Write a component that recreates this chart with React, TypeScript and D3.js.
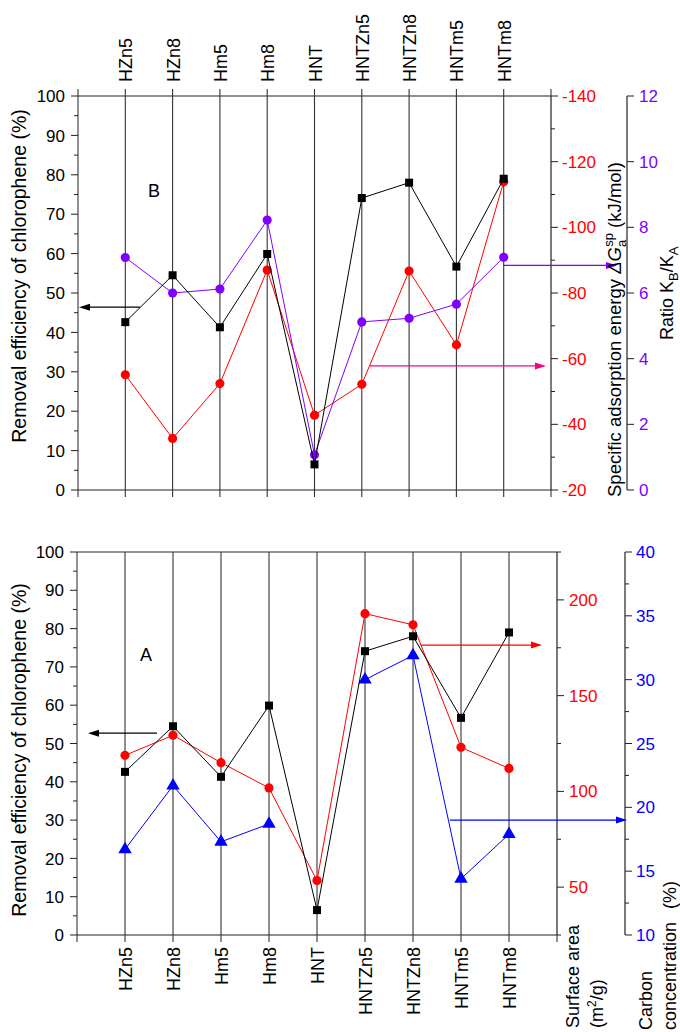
import React from 'react';
import * as d3 from 'd3';

// samples (same order on both panels)
const categories = ['HZn5', 'HZn8', 'Hm5', 'Hm8', 'HNT', 'HNTZn5', 'HNTZn8', 'HNTm5', 'HNTm8'];
// removal efficiency of chlorophene (%)
const removal = [42.6, 54.5, 41.3, 59.9, 6.5, 74.1, 78.0, 56.7, 79.0];
// specific adsorption energy (kJ/mol)
const adsorptionEnergy = [-55.1, -35.7, -52.4, -87.0, -42.8, -52.2, -86.7, -64.2, -113.9];
// ratio KB/KA
const ratioKBKA = [7.08, 6.0, 6.12, 8.22, 1.07, 5.12, 5.23, 5.66, 7.09];
// surface area (m2/g)
const surfaceArea = [118.8, 129.3, 115.0, 101.8, 53.4, 192.8, 187.0, 123.0, 112.0];
// carbon concentration (%), no value for HNT
const carbon: (number | null)[] = [16.7, 21.7, 17.3, 18.7, null, 30.0, 31.9, 14.4, 17.9];

const leftTicks = d3.range(0, 101, 10);
const energyTicks = d3.range(-140, -19, 20);
const ratioTicks = d3.range(0, 13, 2);
const areaTicks = [50, 100, 150, 200];
const carbonTicks = d3.range(10, 41, 5);

const FONT = '"Liberation Sans", Arial, Helvetica, sans-serif';
const RED = '#ff0000';
const PURPLE = '#8000ff';
const BLUE = '#0000ff';
const PINK = '#ff0080';
const AX = '#222';

function Arrow({ x1, x2, y, color }: { x1: number; x2: number; y: number; color: string }) {
  const dir = x2 > x1 ? 1 : -1;
  const hl = 11, hw = 3.5;
  return (
    <g>
      <line x1={x1} x2={x2 - dir * hl} y1={y} y2={y} stroke={color} strokeWidth={1.2} />
      <path d={`M${x2},${y}L${x2 - dir * hl},${y - hw}L${x2 - dir * hl},${y + hw}Z`} fill={color} />
    </g>
  );
}

function VText({ x, y, anchor, size = 18, fill = '#000', children }: any) {
  return (
    <text transform={`translate(${x},${y}) rotate(-90)`} textAnchor={anchor} fontSize={size} fill={fill}>
      {children}
    </text>
  );
}

function LineSeries({ x, y, values, color, shape }: any) {
  const pts = values.map((v: number | null, i: number) => ({ v, c: categories[i] }));
  const line = d3
    .line<any>()
    .defined((d) => d.v != null)
    .x((d) => x(d.c))
    .y((d) => y(d.v));
  const sym = d3.symbol().type(shape === 'triangle' ? d3.symbolTriangle : d3.symbolCircle).size(shape === 'triangle' ? 78 : 66);
  return (
    <g>
      <path d={line(pts) || ''} fill="none" stroke={color} strokeWidth={1} />
      {pts
        .filter((d: any) => d.v != null)
        .map((d: any) =>
          shape === 'square' ? (
            <rect key={d.c} x={x(d.c) - 4} y={y(d.v) - 4} width={8} height={8} fill={color} />
          ) : (
            <path key={d.c} transform={`translate(${x(d.c)},${y(d.v)})`} d={sym() || ''} fill={color} />
          )
        )}
    </g>
  );
}

function LeftAxis({ x0, y }: any) {
  const minors = d3.range(5, 100, 10);
  return (
    <g>
      <line x1={x0} x2={x0} y1={y(0)} y2={y(100)} stroke={AX} />
      {leftTicks.map((t) => (
        <g key={t}>
          <line x1={x0 - 7} x2={x0} y1={y(t)} y2={y(t)} stroke={AX} />
          <text x={x0 - 13} y={y(t)} dy="0.36em" textAnchor="end" fontSize={17}>{t}</text>
        </g>
      ))}
      {minors.map((t) => (
        <line key={t} x1={x0 - 4} x2={x0} y1={y(t)} y2={y(t)} stroke={AX} />
      ))}
    </g>
  );
}

function RightAxis({ ax, y, ticks, minors, color, y0, y1, labelDx = 11, fmt = (t: number) => String(t) }: any) {
  return (
    <g>
      <line x1={ax} x2={ax} y1={y0} y2={y1} stroke={AX} strokeWidth={1.2} />
      {ticks.map((t: number) => (
        <g key={t}>
          <line x1={ax} x2={ax + 7} y1={y(t)} y2={y(t)} stroke={AX} />
          <text x={ax + labelDx} y={y(t)} dy="0.36em" fontSize={17} fill={color}>{fmt(t)}</text>
        </g>
      ))}
      {minors.map((t: number) => (
        <line key={t} x1={ax} x2={ax + 4} y1={y(t)} y2={y(t)} stroke={AX} />
      ))}
    </g>
  );
}

function TopPanel() {
  const x0 = 78, x1 = 551, y0 = 96, y1 = 490;
  const x = d3.scalePoint<string>().domain(categories).range([x0, x1]).padding(1);
  const yL = d3.scaleLinear().domain([0, 100]).range([y1, y0]);
  const yE = d3.scaleLinear().domain([-20, -140]).range([y1, y0]);
  const yR = d3.scaleLinear().domain([0, 12]).range([y1, y0]);
  const ax2 = 627;
  return (
    <g>
      <line x1={x0} x2={x1} y1={y0} y2={y0} stroke={AX} strokeWidth={1.2} />
      <line x1={x0} x2={x1} y1={y1} y2={y1} stroke={AX} strokeWidth={1.2} />
      {[x0, x1].map((v) => (
        <g key={v}>
          <line x1={v} x2={v} y1={y0 - 7} y2={y0} stroke={AX} />
          <line x1={v} x2={v} y1={y1} y2={y1 + 7} stroke={AX} />
        </g>
      ))}
      {categories.map((c) => (
        <g key={c}>
          <line x1={x(c)} x2={x(c)} y1={y0 - 7} y2={y1 + 7} stroke="#333" strokeWidth={1.1} />
          <VText x={x(c)! + 7} y={82} anchor="start">{c}</VText>
        </g>
      ))}
      <LeftAxis x0={x0} y={yL} />
      <RightAxis ax={x1} y={yE} ticks={energyTicks} minors={d3.range(-130, -20, 20)} color={RED} y0={y0} y1={y1} />
      <RightAxis ax={ax2} y={yR} ticks={ratioTicks} minors={[]} color={PURPLE} y0={y0} y1={y1} labelDx={12} />

      <LineSeries x={x} y={yE} values={adsorptionEnergy} color={RED} shape="circle" />
      <LineSeries x={x} y={yR} values={ratioKBKA} color={PURPLE} shape="circle" />
      <LineSeries x={x} y={yL} values={removal} color="#000" shape="square" />

      <Arrow x1={140} x2={79} y={yL(46.4)} color="#000" />
      <Arrow x1={x('HNTm8')!} x2={617} y={yR(6.84)} color={PURPLE} />
      <Arrow x1={370} x2={546} y={yE(-57.8)} color={PINK} />

      <text x={154} y={191} dy="0.36em" textAnchor="middle" fontSize={18}>B</text>

      <VText x={26} y={276} anchor="middle" size={19.5}>Removal efficiency of chlorophene (%)</VText>
      <VText x={621} y={497} anchor="start" size={18.5}>
        Specific adsorption energy <tspan fontStyle="italic">ΔG</tspan>
        <tspan fontSize={13} dy={5}>a</tspan>
        <tspan fontSize={13} dx={-7} dy={-13}>sp</tspan>
        <tspan dy={8}> (kJ/mol)</tspan>
      </VText>
      <VText x={673} y={340} anchor="start">
        Ratio K<tspan fontSize={13} dy={5}>B</tspan>
        <tspan dy={-5}>/K</tspan>
        <tspan fontSize={13} dy={5}>A</tspan>
      </VText>
    </g>
  );
}

function BottomPanel() {
  const x0 = 77, x1 = 557, y0 = 552, y1 = 935;
  const x = d3.scalePoint<string>().domain(categories).range([x0, x1]).padding(1);
  const yL = d3.scaleLinear().domain([0, 100]).range([y1, y0]);
  const yS = d3.scaleLinear().domain([25, 225]).range([y1, y0]);
  const yC = d3.scaleLinear().domain([10, 40]).range([y1, y0]);
  const ax2 = 625;
  return (
    <g>
      <line x1={x0} x2={x1} y1={y0} y2={y0} stroke={AX} strokeWidth={1.2} />
      <line x1={x0} x2={x1} y1={y1} y2={y1} stroke={AX} strokeWidth={1.2} />
      {[x0, x1].map((v) => (
        <line key={v} x1={v} x2={v} y1={y1} y2={y1 + 7} stroke={AX} />
      ))}
      {categories.map((c) => (
        <g key={c}>
          <line x1={x(c)} x2={x(c)} y1={y0} y2={y1 + 7} stroke="#333" strokeWidth={1.1} />
          <VText x={x(c)! + 7} y={947} anchor="end">{c}</VText>
        </g>
      ))}
      <LeftAxis x0={x0} y={yL} />
      <RightAxis ax={x1} y={yS} ticks={areaTicks} minors={[25, 75, 125, 175, 225]} color={RED} y0={y0} y1={y1} labelDx={12} />
      <RightAxis ax={ax2} y={yC} ticks={carbonTicks} minors={d3.range(12.5, 40, 5)} color={BLUE} y0={y0} y1={y1} labelDx={11} />

      <LineSeries x={x} y={yS} values={surfaceArea} color={RED} shape="circle" />
      <LineSeries x={x} y={yC} values={carbon} color={BLUE} shape="triangle" />
      <LineSeries x={x} y={yL} values={removal} color="#000" shape="square" />

      <Arrow x1={157} x2={88} y={yL(52.7)} color="#000" />
      <Arrow x1={421} x2={542} y={yS(176.4)} color={RED} />
      <Arrow x1={450} x2={627} y={yC(19.0)} color={BLUE} />

      <text x={146} y={655} dy="0.36em" textAnchor="middle" fontSize={18}>A</text>

      <VText x={26} y={750} anchor="middle" size={19.5}>Removal efficiency of chlorophene (%)</VText>
      <VText x={579} y={1028} anchor="start">Surface area</VText>
      <VText x={603} y={1028} anchor="start">
        (m<tspan fontSize={12} dy={-7}>2</tspan>
        <tspan dy={7}>/g)</tspan>
      </VText>
      <VText x={652} y={1030} anchor="start">Carbon</VText>
      <VText x={676} y={1030} anchor="start">concentration</VText>
      <VText x={676} y={909} anchor="start">(%)</VText>
    </g>
  );
}

export default function App() {
  return (
    <div style={{ position: 'absolute', left: 0, top: 0 }}>
      <svg width={680} height={1032} style={{ display: 'block', fontFamily: FONT }}>
        <rect width={680} height={1032} fill="#fff" />
        <TopPanel />
        <BottomPanel />
      </svg>
    </div>
  );
}
